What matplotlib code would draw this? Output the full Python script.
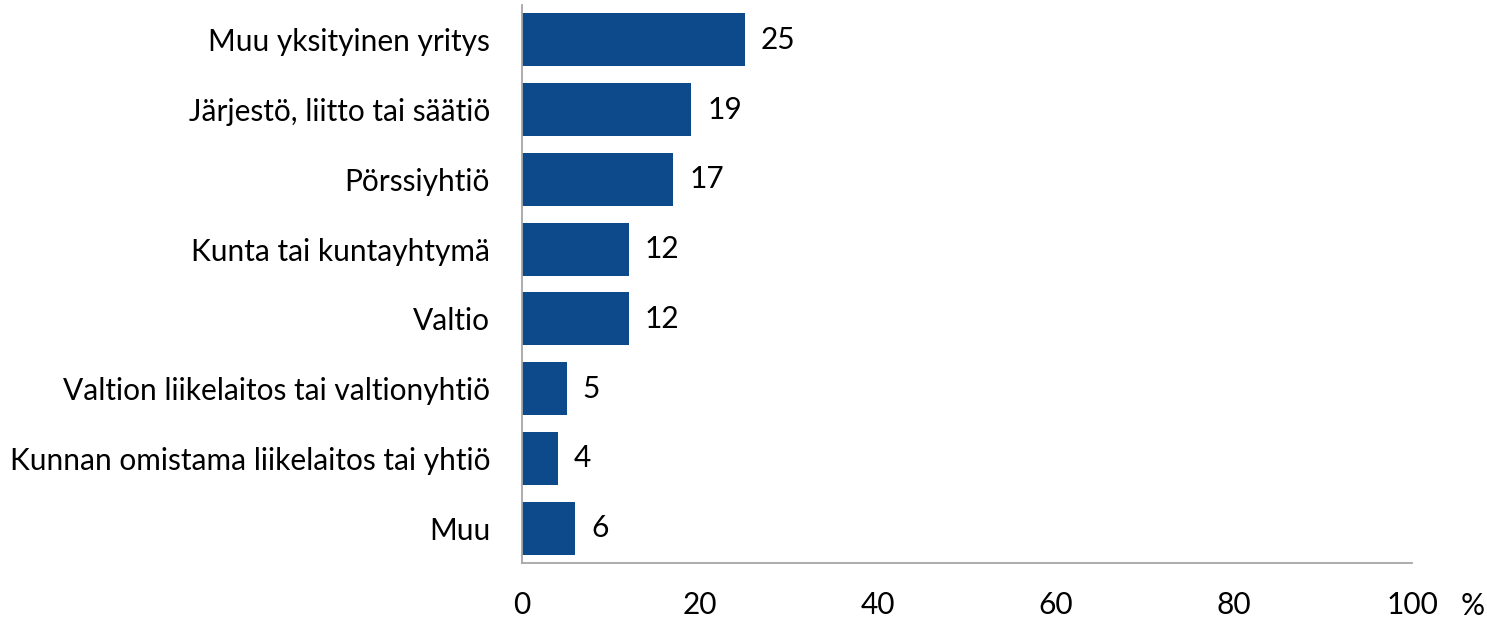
import matplotlib
matplotlib.use("Agg")
import matplotlib.pyplot as plt

categories = ["Muu yksityinen yritys", "Järjestö, liitto tai säätiö", "Pörssiyhtiö",
              "Kunta tai kuntayhtymä", "Valtio", "Valtion liikelaitos tai valtionyhtiö",
              "Kunnan omistama liikelaitos tai yhtiö", "Muu"]
values = [25, 19, 17, 12, 12, 5, 4, 6]
xticks = [0, 20, 40, 60, 80, 100]

plt.rcParams['font.family'] = ['Lato', 'DejaVu Sans']
FS = 21.5

W, H = 1487, 618
fig = plt.figure(figsize=(W/100, H/100), dpi=100)
ax = fig.add_axes([522/W, (H-563)/H, (1412-522)/W, (563-5)/H])

ypos = list(range(len(categories)))
ax.barh(ypos, values, height=0.76, color="#0D4A8C")
ax.set_ylim(len(categories)-0.5, -0.5)
ax.set_xlim(0, 100)
ax.set_yticks(ypos)
ax.set_yticklabels(categories, fontsize=FS)
ax.set_xticks(xticks)
ax.set_xticklabels([str(t) for t in xticks], fontsize=FS)
ax.tick_params(axis='both', length=0)
ax.tick_params(axis='y', pad=23)
ax.tick_params(axis='x', pad=20)
for s in ["top", "right"]:
    ax.spines[s].set_visible(False)
for s in ["left", "bottom"]:
    ax.spines[s].set_color("#A6A6A6")
    ax.spines[s].set_linewidth(1.3)

for y, v in zip(ypos, values):
    ax.annotate(str(v), (v, y), xytext=(16, 0), textcoords="offset pixels",
                va="center", ha="left", fontsize=FS)

ax.annotate("%", (1, 0), xycoords="axes fraction", xytext=(61, -43),
            textcoords="offset pixels", ha="center", va="center", fontsize=FS)

fig.savefig("out.png", dpi=100)
